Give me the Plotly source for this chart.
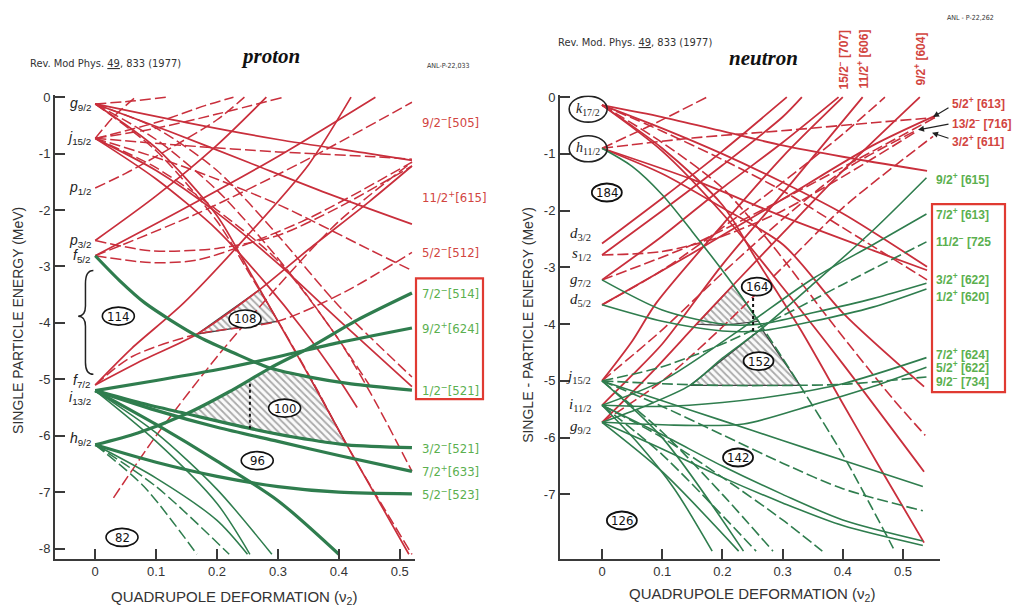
import plotly.graph_objects as go

# page has an 8px body margin: the figure is drawn 8px in from the top-left
OFF = 8
W, H = 1021 - OFF, 608 - OFF

# ---------------- PROTON data (deformation, energy MeV) ----------------
P_LEVELS = ["g", "j", "p", "p", "f", "f", "i", "h"]
P_LEVEL_J = ["9/2", "15/2", "1/2", "3/2", "5/2", "7/2", "13/2", "9/2"]
P_LEVEL_E = [-0.12, -0.73, -1.61, -2.54, -2.81, -5.03, -5.33, -6.05]

P_RED_SOLID = [
    [(0, -0.12), (0.1, -0.9), (0.2, -2.1), (0.254, -3.1), (0.3, -3.97), (0.352, -4.96), (0.413, -6.16), (0.515, -8.1)],
    [(0, -0.12), (0.12, -0.6), (0.25, -1.15), (0.38, -1.7), (0.52, -2.25)],
    [(0, -0.73), (0.1, -1.3), (0.2, -2.05), (0.3, -2.95), (0.4, -3.95), (0.52, -5.13)],
    [(0, -0.12), (0.15, -0.45), (0.3, -0.75), (0.45, -1.0), (0.52, -1.12)],
    [(0, -2.81), (0.15, -1.95), (0.3, -1.05), (0.46, 0.0)],
    [(0, -2.54), (0.1, -1.75), (0.2, -0.85), (0.281, 0.0)],
    [(0, -5.1), (0.08, -4.65), (0.167, -4.2), (0.27, -3.41), (0.35, -2.7), (0.45, -1.85), (0.52, -1.22)],
    [(0, -5.1), (0.06, -4.45), (0.145, -3.65), (0.25, -2.45), (0.35, -1.2), (0.42, 0.0)],
    [(0, -0.73), (0.1, -1.45), (0.2, -2.35), (0.28, -3.3), (0.34, -4.1), (0.4, -5.0), (0.43, -5.5)],
]
P_RED_DASH = [
    [(0, -0.12), (0.1, -0.95), (0.2, -2.2), (0.26, -3.25), (0.31, -4.15), (0.36, -5.1), (0.42, -6.3), (0.52, -8.1)],
    [(0, -0.73), (0.03, -0.35), (0.066, 0.0)],
    [(0, -0.12), (0.06, -0.07), (0.118, 0.0)],
    [(0, -0.73), (0.1, -0.55), (0.2, -0.3), (0.309, 0.0)],
    [(0, -0.73), (0.1, -0.45), (0.18, -0.15), (0.227, 0.0)],
    [(0, -0.73), (0.15, -0.86), (0.3, -0.97), (0.45, -1.05), (0.52, -1.1)],
    [(0, -0.73), (0.15, -1.25), (0.3, -1.9), (0.45, -2.7), (0.52, -3.07)],
    [(0, -1.61), (0.05, -1.35), (0.1, -1.05), (0.2, -0.4), (0.245, 0.0)],
    [(0, -2.54), (0.09, -2.72), (0.2, -2.68), (0.3, -2.45), (0.4, -1.95), (0.52, -1.22)],
    [(0, -2.81), (0.09, -2.93), (0.17, -2.88), (0.34, -2.2), (0.52, -1.15)],
    [(0, -2.81), (0.17, -2.05), (0.34, -1.15), (0.52, -0.09)],
    [(0, -5.1), (0.06, -4.6), (0.167, -4.2), (0.3, -3.97), (0.41, -3.45), (0.52, -2.75)],
    [(0.03, -7.1), (0.1, -6.0), (0.2, -4.6), (0.3, -3.35), (0.4, -2.2), (0.52, -1.15)],
    [(0, -0.73), (0.1, -1.25), (0.2, -2.0), (0.3, -2.9), (0.4, -4.3), (0.46, -5.4), (0.52, -6.63)],
    [(0, -0.12), (0.1, -0.55), (0.2, -1.3), (0.3, -2.45), (0.4, -3.7), (0.52, -4.96)],
    [(0, -0.12), (0.1, -0.75), (0.2, -1.65), (0.28, -2.6), (0.34, -3.4), (0.4, -4.3), (0.45, -5.1)],
]
P_GREEN_THICK = [
    [(0, -2.81), (0.04, -3.25), (0.082, -3.65), (0.167, -4.23), (0.227, -4.53), (0.287, -4.8), (0.352, -4.96), (0.42, -5.08), (0.52, -5.19)],
    [(0, -6.16), (0.07, -5.95), (0.15, -5.61), (0.22, -5.22), (0.287, -4.8), (0.35, -4.45), (0.43, -3.95), (0.52, -3.47)],
    [(0, -5.2), (0.1, -5.02), (0.2, -4.83), (0.3, -4.6), (0.4, -4.35), (0.52, -4.09)],
    [(0, -5.2), (0.075, -5.42), (0.15, -5.61), (0.254, -5.87), (0.33, -6.03), (0.413, -6.16), (0.52, -6.21)],
    [(0, -5.2), (0.1, -5.55), (0.2, -5.85), (0.3, -6.1), (0.4, -6.35), (0.52, -6.63)],
    [(0, -6.16), (0.1, -6.47), (0.2, -6.72), (0.3, -6.9), (0.4, -7.0), (0.52, -7.03)],
    [(0, -5.2), (0.1, -5.8), (0.2, -6.45), (0.3, -7.15), (0.4, -8.1)],
]
P_GREEN_THIN = [
    [(0, -5.2), (0.1, -5.95), (0.2, -6.95), (0.29, -8.1)],
    [(0, -5.2), (0.1, -6.1), (0.2, -7.2), (0.254, -8.1)],
    [(0, -6.16), (0.1, -6.75), (0.2, -7.5), (0.25, -8.1)],
]
P_GREEN_DASH = [
    [(0, -6.16), (0.1, -6.9), (0.22, -8.1)],
    [(0, -6.16), (0.08, -6.9), (0.167, -8.1)],
]
P_HATCH = [
    [(0.167, -4.2), (0.27, -3.41), (0.30, -3.97)],
    [(0.15, -5.61), (0.22, -5.22), (0.287, -4.8), (0.32, -4.9), (0.352, -4.96), (0.413, -6.16), (0.33, -6.03), (0.254, -5.87)],
]
P_DOTTED = [(0.254, -5.08), (0.254, -5.87)]
P_MAGIC = ["114", "108", "100", "96", "82"]
P_MAGIC_X = [0.038, 0.246, 0.311, 0.266, 0.044]
P_MAGIC_Y = [-3.88, -3.93, -5.51, -6.44, -7.80]
P_RIGHT_LABELS = ["9/2<sup>−</sup>[505]", "11/2<sup>+</sup>[615]", "5/2<sup>−</sup>[512]",
                  "7/2<sup>−</sup>[514]", "9/2<sup>+</sup>[624]", "1/2<sup>−</sup>[521]",
                  "3/2<sup>−</sup>[521]", "7/2<sup>+</sup>[633]", "5/2<sup>−</sup>[523]"]
P_RIGHT_E = [-0.44, -1.77, -2.74, -3.47, -4.09, -5.19, -6.21, -6.63, -7.03]
P_RIGHT_COLOR = ["r", "r", "r", "g", "g", "g", "g", "g", "g"]

# ---------------- NEUTRON data ----------------
N_LEVELS = ["k", "h", "d", "s", "g", "d", "j", "i", "g"]
N_LEVEL_J = ["17/2", "11/2", "3/2", "1/2", "7/2", "5/2", "15/2", "11/2", "9/2"]
N_LEVEL_E = [-0.21, -0.91, -2.41, -2.76, -3.22, -3.57, -4.94, -5.43, -5.81]

N_RED_SOLID = [
    [(0, -0.14), (0.1, -0.35), (0.2, -0.6), (0.3, -0.85), (0.4, -1.05), (0.54, -1.3)],
    [(0, -0.14), (0.1, -0.55), (0.2, -1.0), (0.3, -1.5), (0.4, -2.05), (0.54, -2.99)],
    [(0, -0.14), (0.1, -0.9), (0.2, -1.9), (0.257, -2.87), (0.33, -4.1), (0.399, -5.38), (0.46, -6.5), (0.535, -7.85)],
    [(0, -0.9), (0.1, -1.35), (0.2, -1.95), (0.301, -2.6), (0.4, -3.8), (0.535, -5.1)],
    [(0, -0.14), (0.1, -0.95), (0.2, -2.05), (0.3, -3.35), (0.4, -4.7), (0.535, -6.6)],
    [(0, -0.9), (0.15, -1.45), (0.3, -2.1), (0.45, -2.7), (0.54, -3.05)],
    [(0, -2.58), (0.1, -1.78), (0.2, -0.95), (0.307, 0.0)],
    [(0, -2.78), (0.1, -2.0), (0.2, -1.2), (0.3, -0.35), (0.332, 0.0)],
    [(0, -3.22), (0.1, -2.45), (0.2, -1.6), (0.3, -0.8), (0.393, 0.0)],
    [(0, -5.0), (0.05, -4.3), (0.09, -3.63), (0.2, -2.25), (0.3, -1.05), (0.4, 0.0)],
    [(0, -5.43), (0.05, -4.9), (0.1, -4.35), (0.2, -2.95), (0.3, -1.7), (0.433, 0.0)],
    [(0, -5.73), (0.08, -4.88), (0.157, -4.0), (0.218, -3.31), (0.3, -2.4), (0.4, -1.3), (0.528, 0.0)],
    [(0, -3.66), (0.15, -2.75), (0.3, -1.8), (0.45, -0.85), (0.553, -0.33)],
]
N_RED_DASH = [
    [(0, -0.14), (0.1, -0.6), (0.2, -1.1), (0.3, -1.65), (0.4, -2.3), (0.54, -3.22)],
    [(0, -0.14), (0.1, -0.8), (0.2, -1.6), (0.285, -2.64), (0.38, -3.95), (0.482, -5.3), (0.537, -5.96)],
    [(0, -0.9), (0.09, -0.45), (0.174, 0.0)],
    [(0, -0.9), (0.15, -0.72), (0.312, -0.58), (0.45, -0.45), (0.553, -0.36)],
    [(0, -2.78), (0.1, -2.72), (0.2, -2.45), (0.3, -2.0), (0.4, -1.4), (0.523, -0.6)],
    [(0, -5.0), (0.1, -4.1), (0.2, -3.1), (0.3, -2.15), (0.4, -1.3), (0.523, -0.58)],
    [(0, -5.73), (0.1, -5.0), (0.2, -4.05), (0.3, -3.0), (0.4, -1.95), (0.55, -0.69)],
    [(0, -3.22), (0.15, -2.6), (0.3, -1.8), (0.45, -0.95), (0.553, -0.36)],
    [(0, -3.66), (0.1, -3.05), (0.2, -2.3), (0.3, -1.5), (0.4, -0.65), (0.47, 0.0)],
]
N_GREEN_SOLID = [
    [(0, -0.9), (0.05, -1.22), (0.1, -1.72), (0.15, -2.37), (0.218, -3.31), (0.26, -3.95)],
    [(0, -5.73), (0.07, -5.45), (0.146, -5.08), (0.2, -4.6), (0.265, -4.08), (0.35, -3.3), (0.45, -2.35), (0.539, -1.42)],
    [(0, -5.43), (0.1, -5.0), (0.229, -4.1), (0.35, -3.2), (0.45, -2.6), (0.539, -2.06)],
    [(0, -3.22), (0.1, -3.75), (0.2, -4.0), (0.262, -4.0), (0.35, -3.8), (0.45, -3.55), (0.539, -3.28)],
    [(0, -3.66), (0.1, -3.95), (0.2, -4.12), (0.262, -4.12), (0.35, -3.95), (0.45, -3.7), (0.539, -3.38)],
    [(0, -5.43), (0.1, -5.45), (0.2, -5.38), (0.3, -5.25), (0.4, -5.05), (0.539, -4.59)],
    [(0, -5.73), (0.12, -5.78), (0.235, -5.76), (0.345, -5.44), (0.45, -5.1), (0.539, -4.76)],
    [(0, -5.0), (0.1, -5.35), (0.2, -5.7), (0.3, -6.05), (0.4, -6.4), (0.533, -6.86)],
    [(0, -5.43), (0.1, -5.95), (0.2, -6.5), (0.3, -7.0), (0.4, -7.45), (0.533, -7.82)],
    [(0, -5.73), (0.1, -6.2), (0.2, -6.7), (0.3, -7.15), (0.4, -7.55), (0.533, -7.9)],
    [(0, -5.43), (0.06, -6.1), (0.12, -6.9), (0.183, -8.0)],
    [(0, -5.73), (0.1, -6.6), (0.227, -8.0)],
    [(0, -5.0), (0.1, -6.0), (0.235, -8.0)],
]
N_GREEN_DASH = [
    [(0.26, -3.95), (0.3, -4.6), (0.33, -5.1), (0.4, -6.3), (0.484, -7.95)],
    [(0, -5.0), (0.1, -4.75), (0.2, -4.35), (0.3, -3.85), (0.4, -3.3), (0.539, -2.55)],
    [(0, -5.0), (0.1, -5.05), (0.2, -5.08), (0.3, -5.08), (0.4, -5.06), (0.539, -4.93)],
    [(0, -5.0), (0.1, -5.45), (0.2, -5.95), (0.3, -6.45), (0.4, -6.9), (0.533, -7.29)],
    [(0, -5.43), (0.1, -6.3), (0.256, -8.0)],
    [(0, -5.0), (0.1, -5.9), (0.2, -7.0), (0.284, -8.0)],
    [(0, -5.43), (0.1, -6.0), (0.2, -6.7), (0.3, -7.45), (0.366, -8.0)],
]
N_HATCH = [
    [(0.157, -4.0), (0.218, -3.31), (0.26, -3.95), (0.2, -4.02)],
    [(0.146, -5.08), (0.265, -4.08), (0.329, -5.08)],
]
N_DOTTED = [(0.251, -3.54), (0.251, -4.18)]
N_MAGIC = ["184", "164", "152", "142", "126"]
N_MAGIC_X = [0.008, 0.257, 0.26, 0.226, 0.033]
N_MAGIC_Y = [-1.68, -3.34, -4.65, -6.35, -7.46]
N_RIGHT_LABELS = ["5/2<sup>+</sup> [613]", "13/2<sup>−</sup> [716]", "3/2<sup>+</sup> [611]",
                  "9/2<sup>+</sup> [615]", "7/2<sup>+</sup> [613]", "11/2<sup>−</sup> [725",
                  "3/2<sup>+</sup> [622]", "1/2<sup>+</sup> [620]", "7/2<sup>+</sup> [624]",
                  "5/2<sup>+</sup> [622]", "9/2<sup>−</sup> [734]"]
N_RIGHT_E = [-0.11, -0.46, -0.78, -1.45, -2.06, -2.54, -3.21, -3.51, -4.53, -4.76, -5.0]
N_RIGHT_COLOR = ["r", "r", "r", "g", "g", "g", "g", "g", "g", "g", "g"]
N_TOP_LABELS = ["15/2<sup>−</sup> [707]", "11/2<sup>+</sup> [606]", "9/2<sup>+</sup> [604]"]

# ---------------- styling ----------------
RED = "#c92f3c"
RED_TXT = "#d2453f"
GREEN = "#2f7d4e"
GREEN_TXT = "#5bb04f"
AX = "#3a3a3a"
FONT = "Liberation Sans, Arial, sans-serif"
NARROW = "Liberation Sans Narrow, DejaVu Sans Condensed, Liberation Sans, sans-serif"

TOP_PX, BOT_PX = 90.3, 558
P_X_PX = (55, 415)
N_X_PX = (560, 940)
P_XR = [-0.066, 0.525]
P_YR = [-8.175, 0.03]
N_XR = [-0.0698, 0.5615]
N_YR = [-8.13, 0.03]


def px(x):
    return (x - OFF) / W


def py(y):
    return 1 - (y - OFF) / H


fig = go.Figure()


def add_lines(lines, xa, ya, color, width, dash):
    for ln in lines:
        xs = [p[0] for p in ln]
        ys = [p[1] for p in ln]
        fig.add_trace(go.Scatter(x=xs, y=ys, mode="lines", xaxis=xa, yaxis=ya,
                                 line=dict(color=color, width=width, dash=dash,
                                           shape="spline", smoothing=0.8),
                                 hoverinfo="skip"))


def add_hatch(polys, xa, ya):
    for poly in polys:
        xs = [p[0] for p in poly] + [poly[0][0]]
        ys = [p[1] for p in poly] + [poly[0][1]]
        fig.add_trace(go.Scatter(x=xs, y=ys, mode="lines", fill="toself", xaxis=xa, yaxis=ya,
                                 fillcolor="rgba(255,255,255,0)",
                                 fillpattern=dict(shape="\\", fgcolor="#5a5a5a", size=5, solidity=0.35,
                                                  bgcolor="rgba(250,250,250,0.9)"),
                                 line=dict(color="#444444", width=1.3), hoverinfo="skip"))


add_hatch(P_HATCH, "x", "y")
add_hatch(N_HATCH, "x2", "y2")

DASH = "11px,4px"
add_lines(P_RED_SOLID, "x", "y", RED, 1.7, "solid")
add_lines(P_RED_DASH, "x", "y", RED, 1.5, DASH)
add_lines(P_GREEN_THIN, "x", "y", GREEN, 1.5, "solid")
add_lines(P_GREEN_DASH, "x", "y", GREEN, 1.5, DASH)
add_lines(P_GREEN_THICK, "x", "y", GREEN, 3.2, "solid")

add_lines(N_RED_SOLID, "x2", "y2", RED, 1.8, "solid")
add_lines(N_RED_DASH, "x2", "y2", RED, 1.6, DASH)
add_lines(N_GREEN_SOLID, "x2", "y2", GREEN, 1.6, "solid")
add_lines(N_GREEN_DASH, "x2", "y2", GREEN, 1.6, DASH)

for pts, xa, ya in [(P_DOTTED, "x", "y"), (N_DOTTED, "x2", "y2")]:
    fig.add_trace(go.Scatter(x=[p[0] for p in pts], y=[p[1] for p in pts], mode="lines",
                             xaxis=xa, yaxis=ya, line=dict(color="#111111", width=2, dash="dot"),
                             hoverinfo="skip"))

annotations = []
shapes = []


def note(x, y, text, size, color="#222222", family=FONT, xanchor="center", yanchor="middle",
         xref="paper", yref="paper", angle=0):
    annotations.append(dict(x=x, y=y, xref=xref, yref=yref, xanchor=xanchor, yanchor=yanchor,
                            text=text, showarrow=False, textangle=angle,
                            font=dict(family=family, size=size, color=color)))


# spherical level labels
for nm, j, e in zip(P_LEVELS, P_LEVEL_J, P_LEVEL_E):
    note(-0.004, e, f"<i>{nm}</i><sub>{j}</sub>", 14, xanchor="right", xref="x", yref="y")
for k, (nm, j, e) in enumerate(zip(N_LEVELS, N_LEVEL_J, N_LEVEL_E)):
    if k < 2:
        note(-0.023, e, f"<i>{nm}</i><sub>{j}</sub>", 14, family="Liberation Serif, serif", xref="x2", yref="y2")
        shapes.append(dict(type="circle", xref="x2", yref="y2", xsizemode="pixel", ysizemode="pixel",
                           xanchor=-0.023, yanchor=e, x0=-19, x1=19, y0=-13, y1=13,
                           line=dict(color="#222222", width=1.6)))
    else:
        note(-0.015, e, f"<i>{nm}</i><sub>{j}</sub>", 15, family="Liberation Serif, serif",
             xanchor="right", xref="x2", yref="y2")

# magic number ovals
for lab, cx, cy in zip(P_MAGIC, P_MAGIC_X, P_MAGIC_Y):
    shapes.append(dict(type="circle", xref="x", yref="y", xsizemode="pixel", ysizemode="pixel",
                       xanchor=cx, yanchor=cy, x0=-16, x1=16, y0=-9, y1=9,
                       fillcolor="white", line=dict(color="#111111", width=1.6)))
    note(cx, cy, lab, 13, "#111111", NARROW, xref="x", yref="y")
for lab, cx, cy in zip(N_MAGIC, N_MAGIC_X, N_MAGIC_Y):
    shapes.append(dict(type="circle", xref="x2", yref="y2", xsizemode="pixel", ysizemode="pixel",
                       xanchor=cx, yanchor=cy, x0=-15, x1=15, y0=-9, y1=9,
                       fillcolor="white", line=dict(color="#111111", width=1.8)))
    note(cx, cy, lab, 13, "#111111", NARROW, xref="x2", yref="y2")

# right-side orbital labels
for t, e, c in zip(P_RIGHT_LABELS, P_RIGHT_E, P_RIGHT_COLOR):
    note(px(420), e, t, 13, RED_TXT if c == "r" else GREEN_TXT, NARROW, xanchor="left", yref="y")
for k, (t, e, c) in enumerate(zip(N_RIGHT_LABELS, N_RIGHT_E, N_RIGHT_COLOR)):
    xpos = 950 if k < 3 else 934
    note(px(xpos), e, f"<b>{t}</b>", 12, RED_TXT if c == "r" else GREEN_TXT, FONT, xanchor="left", yref="y2")
for t, xp in zip(N_TOP_LABELS, [843, 863, 920]):
    note(px(xp), py(54), f"<b>{t}</b>", 12, RED_TXT, FONT, angle=-90)

# arrows to converging neutron levels
for (hx, hy), (tx, ty) in [((933, 112), (950, 102)), ((918, 125), (950, 119)), ((932, 128), (950, 134))]:
    annotations.append(dict(x=px(hx), y=py(hy), xref="paper", yref="paper", ax=tx - hx, ay=ty - hy,
                            axref="pixel", ayref="pixel", text="", showarrow=True, arrowhead=2,
                            arrowsize=1, arrowwidth=1.2, arrowcolor="#222222"))

# header texts
note(px(270), py(50), "<b><i>proton</i></b>", 21, "#111111", "Liberation Serif, serif")
note(px(763), py(52), "<b><i>neutron</i></b>", 21, "#111111", "Liberation Serif, serif")
note(px(28), py(58), "Rev. Mod Phys. <u>49</u>, 833 (1977)", 11, "#333333", NARROW, xanchor="left")
note(px(556), py(37), "Rev. Mod. Phys. <u>49</u>, 833 (1977)", 11, "#333333", NARROW, xanchor="left")
note(px(425), py(61), "ANL-P-22,033", 7, "#333333", NARROW, xanchor="left")
note(px(945), py(12), "ANL - P-22,262", 7, "#333333", NARROW, xanchor="left")
note(px(18), py(318), "SINGLE PARTICLE ENERGY (MeV)", 14, "#333333", angle=-90)
note(px(528), py(322), "SINGLE - PARTICLE ENERGY (MeV)", 14, "#333333", angle=-90)
note(px(234), py(597), "QUADRUPOLE DEFORMATION (ν<sub>2</sub>)", 15, "#333333")
note(px(752), py(594), "QUADRUPOLE DEFORMATION (ν<sub>2</sub>)", 15, "#333333")

# curly brace (proton)
shapes.append(dict(type="path", xref="x", yref="y",
                   path="M -0.003,-3.07 Q -0.016,-3.07 -0.016,-3.3 L -0.016,-3.7 Q -0.016,-3.88 -0.028,-3.88 "
                        "Q -0.016,-3.88 -0.016,-4.06 L -0.016,-4.7 Q -0.016,-4.91 -0.003,-4.91",
                   line=dict(color="#222222", width=1.5)))
# red boxes
shapes.append(dict(type="rect", xref="paper", yref="paper", x0=px(416), x1=px(483), y0=py(397), y1=py(275),
                   line=dict(color="#e03a32", width=2.2)))
shapes.append(dict(type="rect", xref="paper", yref="paper", x0=px(932), x1=px(1005), y0=py(390), y1=py(200),
                   line=dict(color="#e03a32", width=2.2)))

axis_common = dict(showgrid=False, zeroline=False, showline=True, linecolor=AX, linewidth=2,
                   ticks="inside", ticklen=10, tickwidth=2, tickcolor=AX,
                   tickfont=dict(family=FONT, size=13, color="#333333"))

fig.update_layout(
    width=W, height=H, autosize=False, showlegend=False,
    margin=dict(l=0, r=0, t=0, b=0),
    paper_bgcolor="white", plot_bgcolor="rgba(0,0,0,0)",
    xaxis=dict(domain=[px(P_X_PX[0]), px(P_X_PX[1])], range=P_XR, anchor="y",
               tickvals=[0, 0.1, 0.2, 0.3, 0.4, 0.5], ticktext=["0", "0.1", "0.2", "0.3", "0.4", "0.5"],
               **axis_common),
    yaxis=dict(domain=[py(BOT_PX), py(TOP_PX)], range=P_YR, anchor="x",
               tickvals=[0, -1, -2, -3, -4, -5, -6, -7, -8],
               ticktext=["0", "-1", "-2", "-3", "-4", "-5", "-6", "-7", "-8"], **axis_common),
    xaxis2=dict(domain=[px(N_X_PX[0]), px(N_X_PX[1])], range=N_XR, anchor="y2",
                tickvals=[0, 0.1, 0.2, 0.3, 0.4, 0.5], ticktext=["0", "0.1", "0.2", "0.3", "0.4", "0.5"],
                **axis_common),
    yaxis2=dict(domain=[py(BOT_PX), py(TOP_PX)], range=N_YR, anchor="x2",
                tickvals=[0, -1, -2, -3, -4, -5, -6, -7],
                ticktext=["0", "-1", "-2", "-3", "-4", "-5", "-6", "-7"], **axis_common),
    annotations=annotations, shapes=shapes,
)

fig.write_html("out.html")
